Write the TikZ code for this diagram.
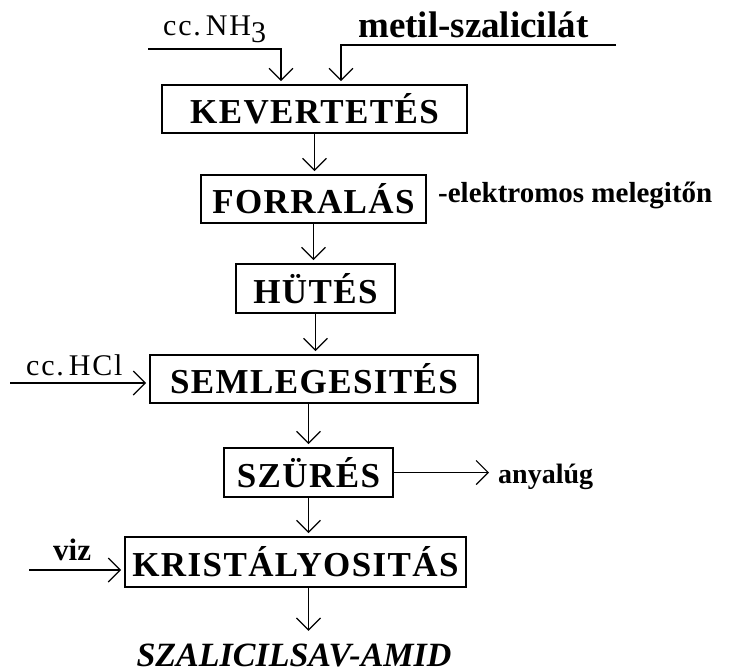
\documentclass[tikz,border=0pt]{standalone}
\usepackage{fontspec}
\setmainfont{Liberation Serif}
\newfontfamily\spacedfont[LetterSpace=4]{Liberation Serif}
\newfontfamily\widefont[LetterSpace=6]{Liberation Serif}
\usetikzlibrary{arrows.meta}

\begin{document}
\begin{tikzpicture}[x=1pt,y=-1pt,
  procbox/.style={draw,line width=1.8pt,inner sep=0pt,font=\spacedfont\bfseries\fontsize{35}{38}\selectfont},
  flow/.style={line width=1.2pt,-{Straight Barb[length=12pt,width=24pt]},shorten >=3pt},
  feed/.style={font=\widefont\fontsize{30}{32}\selectfont,inner sep=0pt,anchor=base west},
  note/.style={font=\bfseries\fontsize{29}{32}\selectfont,inner sep=0pt,anchor=base west}]
\useasboundingbox (0,0) rectangle (756,672);

% process steps
\node[procbox,minimum width=305pt,minimum height=48pt] (kev) at (314.5,109) {KEVERTETÉS};
\node[procbox,minimum width=225pt,minimum height=48pt] (forr) at (313.5,199) {FORRALÁS};
\node[procbox,minimum width=159pt,minimum height=49pt] (hut) at (315.5,288.5) {HÜTÉS};
\node[procbox,minimum width=328pt,minimum height=48pt] (seml) at (314,379) {SEMLEGESITÉS};
\node[procbox,minimum width=169pt,minimum height=49pt] (szur) at (308.5,472.5) {SZÜRÉS};
\node[procbox,minimum width=341pt,minimum height=50pt] (krist) at (295.5,562) {KRISTÁLYOSITÁS};
\node[font=\bfseries\itshape\fontsize{34}{36}\selectfont,inner sep=0pt,anchor=base,text height=32pt] (prod) at (294,666) {SZALICILSAV-AMID};

% main line
\draw[flow] (kev.south) -- (kev.south |- forr.north);
\draw[flow] (forr.south) -- (forr.south |- hut.north);
\draw[flow] (hut.south) -- (hut.south |- seml.north);
\draw[flow] (szur.north |- seml.south) -- (szur.north);
\draw[flow] (szur.south) -- (szur.south |- krist.north);
\draw[flow] (szur.south |- krist.south) -- (szur.south |- prod.north);

% feeds
\node[feed] (nh3 label) at (163,35) {cc.\,NH\raisebox{-7pt}{3}};
\coordinate (nh3) at (148,49);
\draw[flow] (nh3) -| ([xshift=-33.5pt]kev.north);
\node[feed,font=\bfseries\fontsize{37}{40}\selectfont] (ester label) at (358,37) {metil-szalicilát};
\coordinate (ester) at (616,45);
\draw[flow] (ester) -| ([xshift=26.5pt]kev.north);
\node[feed] (hcl label) at (26,375) {cc.\,HCl};
\coordinate (hcl) at (10,383);
\draw[flow] (hcl) -- (hcl -| seml.west);
\node[note,font=\bfseries\fontsize{31}{33}\selectfont] (viz label) at (53,560) {viz};
\coordinate (viz) at (29,570);
\draw[flow] (viz) -- (viz -| krist.west);

% heating and filtrate
\node[note] (heat) at (438,202) {-elektromos melegitőn};
\node[note,font=\bfseries\fontsize{28}{30}\selectfont,inner xsep=6pt] (lug) at (492,483) {anyalúg};
\draw[flow] (szur.east) -- (szur.east -| lug.west);
\end{tikzpicture}
\end{document}
